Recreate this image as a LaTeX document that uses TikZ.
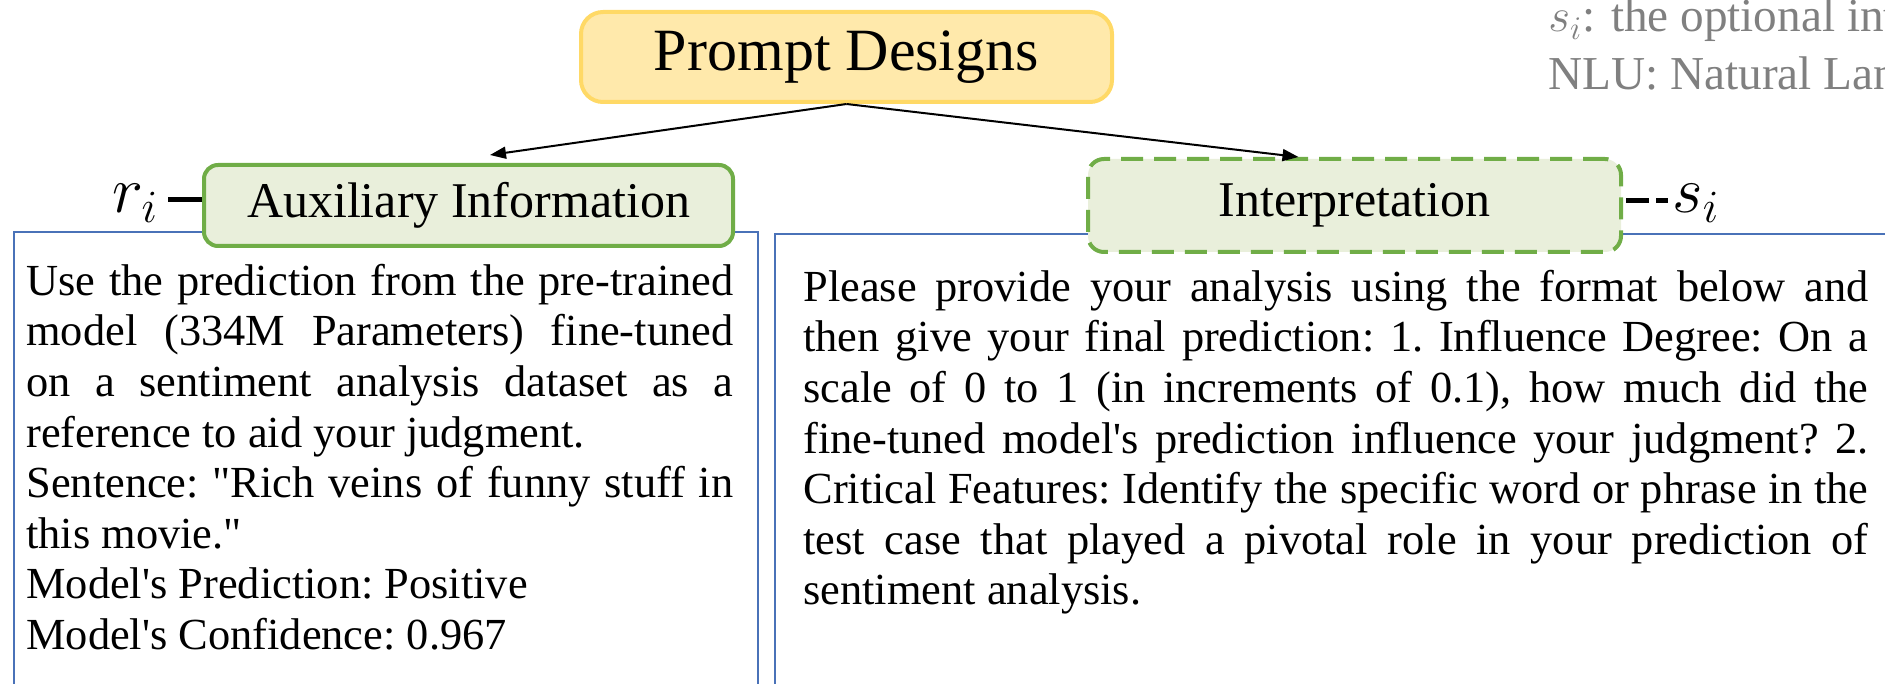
\RequirePackage{fix-cm}
\documentclass[tikz,border=0pt]{standalone}
\usepackage{fontspec}
\setmainfont{Liberation Serif}[Ligatures=TeXOff]
\usetikzlibrary{arrows.meta,calc}
\definecolor{pyfill}{HTML}{FFE9AB}
\definecolor{pydraw}{HTML}{FFD966}
\definecolor{gfill}{HTML}{E9EFDB}
\definecolor{gdraw}{HTML}{70AD47}
\definecolor{bline}{HTML}{4A72B8}
\definecolor{graytxt}{HTML}{808080}
\tikzset{
  titlebox/.style={draw=pydraw, fill=pyfill, line width=2pt, rounded corners=11pt,
    minimum width=265.5pt, minimum height=45pt, inner sep=0pt,
    font=\fontsize{30}{36}\selectfont},
  auxbox/.style={draw=gdraw, fill=gfill, line width=2pt, rounded corners=7pt,
    minimum width=264.5pt, minimum height=40.5pt, inner sep=0pt,
    font=\fontsize{25}{30}\selectfont},
  interpbox/.style={auxbox, dash pattern=on 11pt off 5.5pt,
    minimum width=266.5pt, minimum height=46.5pt, rounded corners=8pt},
  panel/.style={draw=bline, line width=1.2pt},
  bodytext/.style={inner sep=0pt, align=justify, anchor=north west,
    font=\fontsize{22.2}{25.3}\selectfont\frenchspacing},
  arr/.style={draw=black, line width=1pt, -{Triangle[length=8pt,width=6pt]}},
  sym/.style={inner sep=0pt, font=\fontsize{33}{38}\selectfont},
  graytext/.style={inner sep=0pt, text=graytxt, font=\fontsize{23.6}{28}\selectfont},
  link/.style={line width=2.5pt},
}
\begin{document}
\begin{tikzpicture}[x=0.5pt,y=-0.5pt]
\useasboundingbox (0,0) rectangle (1885,684);
\clip (0,0) rectangle (1885,684);
% panels
\draw[panel] (14,232) rectangle (758,740);
\draw[panel] (775,234) rectangle (1930,740);
% gray notes (cut by the right edge, as in the reference)
\node[graytext, anchor=base west] (note1) at (1548,32) {$s_i$: the optional int};
\node[graytext, anchor=base west] (note2) at (1548,90) {NLU: Natural Lan};
% boxes
\node[titlebox] (prompt) at (846.5,57) {Prompt Designs};
\node[auxbox] (aux) at (468.5,205.5) {Auxiliary Information};
\node[interpbox] (interp) at (1354.5,205.5) {Interpretation};
% symbols
\node[sym, anchor=base west] (ri) at (112,213) {$r_i$};
\node[sym, anchor=base west] (si) at (1672,213) {$s_i$};
\draw[link] (aux.west) ++(0,-6) -- ++(-34,0);
\draw[link, dash pattern=on 11.5pt off 3.5pt] (interp.east) ++(3,-5) -- ++(42,0);
% arrows
\draw[arr] (prompt.south) -- ($(aux.north)+(21.5,-8)$);
\draw[arr] (prompt.south) -- ($(interp.north)+(-56,0)$);
% texts
\node[bodytext, text width=353.5pt] (lefttext) at (26,255) {\rule{0pt}{20pt}Use the prediction from the pre-trained\linebreak model (334M Parameters) fine-tuned\linebreak on a sentiment analysis dataset as a\linebreak reference to aid your judgment.\par Sentence: "Rich veins of funny stuff in this movie."\par Model's Prediction: Positive\par Model's Confidence: 0.967};
\node[bodytext, text width=532.5pt] (righttext) at (803,261) {\rule{0pt}{20pt}Please provide your analysis using the format below and\linebreak then give your final prediction: 1. Influence Degree: On a\linebreak scale of 0 to 1 (in increments of 0.1), how much did the\linebreak fine-tuned model's prediction influence your judgment? 2.\linebreak Critical Features: Identify the specific word or phrase in the\linebreak test case that played a pivotal role in your prediction of\linebreak sentiment analysis.};
\end{tikzpicture}
\end{document}
